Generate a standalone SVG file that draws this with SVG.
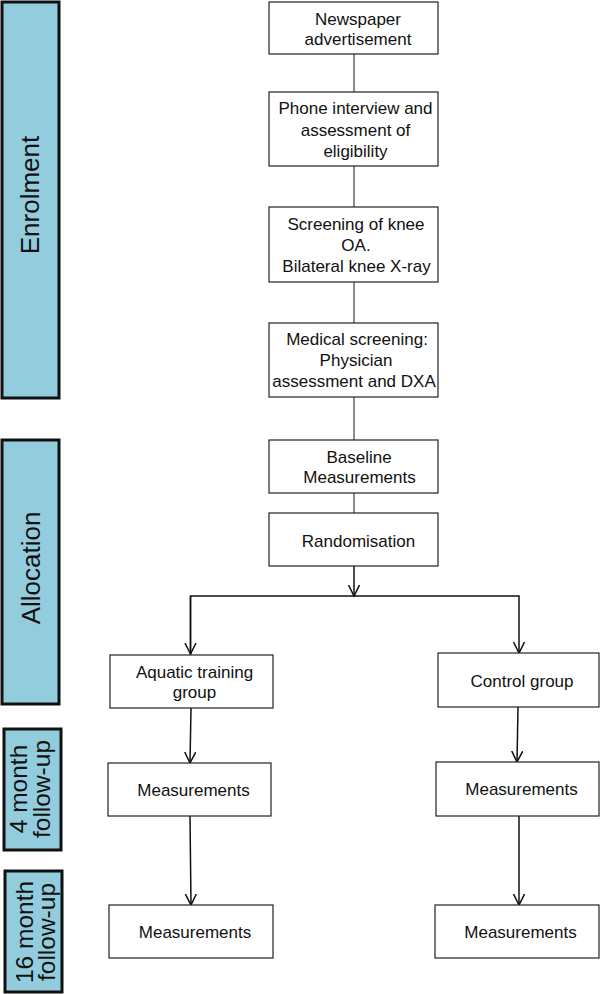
<svg xmlns="http://www.w3.org/2000/svg" width="600" height="994" viewBox="0 0 600 994">
<style>
.bar{fill:#93CDDD;stroke:#111;stroke-width:3}
.box{fill:#fff;stroke:#222;stroke-width:1.2}
.t{font-family:"Liberation Sans",Arial,sans-serif;font-size:17px;fill:#111;text-anchor:middle}
.bt{font-family:"Liberation Sans",Arial,sans-serif;fill:#111;text-anchor:middle}
.c{fill:none;stroke:#666;stroke-width:1.5}
.a{fill:none;stroke:#111;stroke-width:1.5}
</style>
<defs>
<marker id="arr" markerUnits="userSpaceOnUse" markerWidth="14" markerHeight="14" refX="11" refY="6" orient="auto">
<polyline points="0,0.5 11,6 0,11.5" fill="none" stroke="#111" stroke-width="1.5"/>
</marker>
</defs>
<g id="bar-enrolment">
<rect class="bar" x="2" y="2" width="57" height="396"/>
<text class="bt" font-size="26" transform="translate(39,195) rotate(-90)">Enrolment</text>
</g>
<g id="bar-allocation">
<rect class="bar" x="2" y="440" width="57" height="264"/>
<text class="bt" font-size="26" transform="translate(40,568) rotate(-90)">Allocation</text>
</g>
<g id="bar-4month">
<rect class="bar" x="4" y="729" width="57" height="121"/>
<text class="bt" font-size="24.5" transform="translate(27,789) rotate(-90)"><tspan x="0" y="0">4 month</tspan><tspan x="0" y="23">follow-up</tspan></text>
</g>
<g id="bar-16month">
<rect class="bar" x="5" y="871" width="57" height="121"/>
<text class="bt" font-size="24.5" transform="translate(33,932) rotate(-90)"><tspan x="0" y="0">16 month</tspan><tspan x="0" y="22">follow-up</tspan></text>
</g>
<g id="connectors">
<line class="c" x1="354" y1="54" x2="354" y2="92"/>
<line class="c" x1="354" y1="166" x2="354" y2="207"/>
<line class="c" x1="354" y1="282" x2="354" y2="323"/>
<line class="c" x1="354" y1="397" x2="354" y2="440"/>
<line class="c" x1="354" y1="493" x2="354" y2="513"/>
<line class="a" x1="354" y1="566" x2="354" y2="596" marker-end="url(#arr)"/>
<polyline class="a" points="190.5,654 190.5,596 519,596 519,653" marker-end="url(#arr)"/>
<polyline class="a" points="190.5,596 190.5,654" marker-end="url(#arr)"/>
<line class="a" x1="191" y1="708" x2="190" y2="763" marker-end="url(#arr)"/>
<line class="a" x1="190" y1="816" x2="191" y2="905" marker-end="url(#arr)"/>
<line class="a" x1="518" y1="707" x2="517" y2="762" marker-end="url(#arr)"/>
<line class="a" x1="519" y1="816" x2="519" y2="905" marker-end="url(#arr)"/>
</g>
<g id="n-newspaper">
<rect class="box" x="269" y="2" width="169" height="52"/>
<text class="t" x="358" y="25">Newspaper</text>
<text class="t" x="358" y="45">advertisement</text>
</g>
<g id="n-phone">
<rect class="box" x="269" y="92" width="169" height="74"/>
<text class="t" x="355.5" y="114">Phone interview and</text>
<text class="t" x="355.5" y="136">assessment of</text>
<text class="t" x="355.5" y="157">eligibility</text>
</g>
<g id="n-screening">
<rect class="box" x="269" y="207" width="169" height="75"/>
<text class="t" x="356" y="230">Screening of knee</text>
<text class="t" x="356" y="251">OA.</text>
<text class="t" x="356.5" y="272">Bilateral knee X-ray</text>
</g>
<g id="n-medical">
<rect class="box" x="269" y="323" width="169" height="74"/>
<text class="t" x="357" y="345">Medical screening:</text>
<text class="t" x="356" y="366">Physician</text>
<text class="t" x="354" y="387">assessment and DXA</text>
</g>
<g id="n-baseline">
<rect class="box" x="269" y="440" width="169" height="53"/>
<text class="t" x="359" y="463">Baseline</text>
<text class="t" x="359.5" y="483">Measurements</text>
</g>
<g id="n-random">
<rect class="box" x="269" y="513" width="169" height="53"/>
<text class="t" x="358.5" y="547">Randomisation</text>
</g>
<g id="n-aquatic">
<rect class="box" x="110" y="655" width="163" height="53"/>
<text class="t" x="194.5" y="678">Aquatic training</text>
<text class="t" x="194.5" y="698">group</text>
</g>
<g id="n-control">
<rect class="box" x="438" y="653" width="161" height="54"/>
<text class="t" x="522" y="687">Control group</text>
</g>
<g id="n-meas-4-left">
<rect class="box" x="108" y="763" width="163" height="53"/>
<text class="t" x="193.5" y="796">Measurements</text>
</g>
<g id="n-meas-4-right">
<rect class="box" x="436" y="762" width="163" height="54"/>
<text class="t" x="521.5" y="795">Measurements</text>
</g>
<g id="n-meas-16-left">
<rect class="box" x="109" y="905" width="164" height="53"/>
<text class="t" x="195" y="938">Measurements</text>
</g>
<g id="n-meas-16-right">
<rect class="box" x="435" y="905" width="164" height="53"/>
<text class="t" x="520.5" y="938">Measurements</text>
</g>
</svg>
